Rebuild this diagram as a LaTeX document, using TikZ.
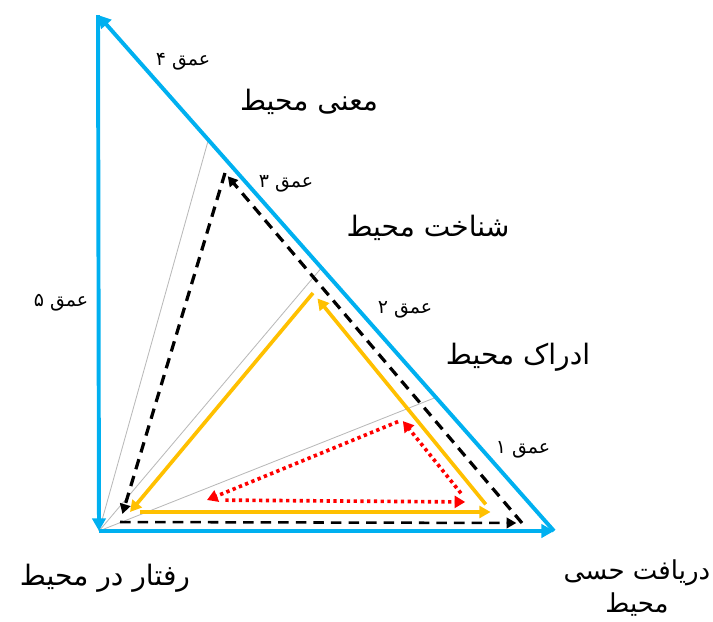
\documentclass[tikz,border=0pt]{standalone}
\usepackage{fontspec}
\newfontfamily\farsifont[Script=Arabic]{DejaVu Sans}
\TeXXeTstate=1
\usetikzlibrary{arrows.meta, calc}

\definecolor{skyblue}{HTML}{00B0F0}
\definecolor{amber}{HTML}{FFC000}

\begin{document}
\begin{tikzpicture}[x=0.025cm, y=-0.025cm,
  bluearrow/.style={draw=skyblue, line width=2.8pt, -{Triangle[length=9pt, width=9.5pt]}},
  blackdash/.style={draw=black, line width=2.3pt, dash pattern=on 7.5pt off 5pt, -{Triangle[length=7pt, width=7.5pt]}},
  orangearrow/.style={draw=amber, line width=2.6pt, -{Triangle[length=8pt, width=8.5pt]}},
  reddot/.style={draw=red, line width=2.6pt, dash pattern=on 2.4pt off 2.4pt, -{Triangle[length=7.5pt, width=8.5pt]}},
  grayline/.style={draw=gray!55, line width=0.6pt},
  bigfa/.style={font=\farsifont\fontsize{20}{25}\selectfont, inner sep=0pt},
  smallfa/.style={font=\farsifont\fontsize{13.5}{16}\selectfont, inner sep=0pt}]
\useasboundingbox (0,0) rectangle (713,621);

% outer triangle
\coordinate (O) at (99,531);
\coordinate (R) at (554,531);
\coordinate (T) at (98,15);

% thin rays from the corner
\foreach \f in {0.259, 0.51, 0.758} {
   \draw[grayline] (O) -- ($(R)!\f!(T)$);
}

\draw[bluearrow] (O) -- (R);
\draw[bluearrow] (R) -- (T);
\draw[bluearrow] (T) -- (O);

% depth 3 (dashed)
\coordinate (kL) at (120,522);
\coordinate (kR) at (522,523);
\coordinate (kT) at (225,173);
\draw[blackdash, line width=1.8pt, shorten >=4pt] (kL) -- (kR);
\draw[blackdash, shorten >=3pt] (kR) -- (kT);
\draw[blackdash, shorten >=6pt] (kT) -- (kL);

% depth 2 (orange)
\coordinate (oL) at (130,512);
\coordinate (oR) at (492,512);
\coordinate (oT) at (313,293);
\draw[orangearrow, shorten <=7pt, shorten >=1pt] (oL) -- (oR);
\draw[orangearrow, shorten <=7pt, shorten >=5pt] (oR) -- (oT);
\draw[orangearrow] (oT) -- (oL);

% depth 1 (dotted)
\coordinate (rL) at (207,500);
\coordinate (rR) at (468,502);
\coordinate (rT) at (402,420);
\draw[reddot, shorten <=13pt, shorten >=2pt] (rL) -- (rR);
\draw[reddot, shorten <=8pt, shorten >=1pt] (rR) -- (rT);
\draw[reddot, shorten <=3pt] (rT) -- (rL);

% labels
\node[bigfa] (mana) at (309,102) {\beginR معنی محیط\endR};
\node[bigfa] (shenakht) at (428,228) {\beginR شناخت محیط\endR};
\node[bigfa] (edrak) at (518,357) {\beginR ادراک محیط\endR};
\node[bigfa] (raftar) at (105,578) {\beginR رفتار در محیط\endR};
\node[bigfa, font=\farsifont\fontsize{18.5}{24}\selectfont, align=center] (daryaft) at (637,588) {\beginR دریافت حسی\endR\\\beginR محیط\endR};
\node[smallfa] (d4) at (183,62) {\beginR عمق ۴\endR};
\node[smallfa] (d3) at (286,184) {\beginR عمق ۳\endR};
\node[smallfa] (d2) at (405,310) {\beginR عمق ۲\endR};
\node[smallfa] (d1) at (523,450) {\beginR عمق ۱\endR};
\node[smallfa] (d5) at (61,303) {\beginR عمق ۵\endR};
\end{tikzpicture}
\end{document}
